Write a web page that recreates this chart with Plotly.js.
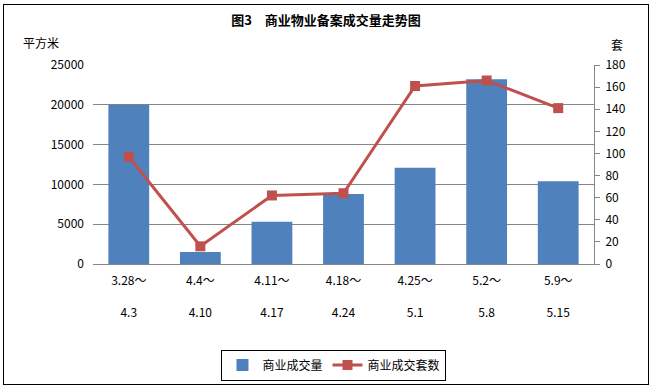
<!DOCTYPE html>
<html>
<head>
<meta charset="utf-8">
<script src="https://cdn.plot.ly/plotly-3.0.1.min.js"></script>
<style>
html,body{margin:0;padding:0;background:#fff;}
#wrap{position:relative;width:652px;height:387px;}
#frame{position:absolute;left:3px;top:4px;width:644px;height:379px;border:1px solid #000;pointer-events:none;z-index:5;}
#chart{position:absolute;left:0;top:0;width:652px;height:387px;}
</style>
</head>
<body>
<div id="wrap"><div id="chart"></div><div id="frame"></div></div>
<script>
const categories = ["3.28～<br> <br>4.3", "4.4～<br> <br>4.10", "4.11～<br> <br>4.17", "4.18～<br> <br>4.24", "4.25～<br> <br>5.1", "5.2～<br> <br>5.8", "5.9～<br> <br>5.15"];
const areaValues = [20000, 1500, 5300, 8800, 12100, 23200, 10400];
const unitValues = [97, 16, 62, 64, 161, 166, 141];
const seriesNames = ["商业成交量", "商业成交套数"];

const font = "'Noto Sans CJK SC', 'DejaVu Sans', sans-serif";
const idx = categories.map((_, i) => i);

const traces = [
  {
    type: 'bar', name: seriesNames[0], x: idx, y: areaValues,
    marker: {color: '#4F81BD'}, width: 0.57, yaxis: 'y'
  },
  {
    type: 'scatter', mode: 'lines+markers', name: seriesNames[1], x: idx, y: unitValues,
    line: {color: '#C0504D', width: 3},
    marker: {symbol: 'square', size: 10, color: '#C0504D'},
    yaxis: 'y2'
  }
];

const layout = {
  width: 652, height: 387,
  margin: {l: 93, r: 58, t: 65, b: 123, autoexpand: false},
  paper_bgcolor: '#fff', plot_bgcolor: '#fff',
  font: {family: font, size: 12, color: '#000'},
  title: {text: '<b>图3　商业物业备案成交量走势图</b>', font: {size: 13, family: font}, x: 0.5, xref: 'container', y: 0.948, yref: 'container', yanchor: 'middle'},
  showlegend: true,
  legend: {orientation: 'h', x: 0.481, xanchor: 'center', y: -0.43, yanchor: 'top',
           bordercolor: '#000', borderwidth: 1, font: {size: 12}, traceorder: 'normal',
           itemwidth: 30, tracegroupgap: 0},
  bargap: 0.43,
  xaxis: {
    range: [-0.5, 6.5], tickmode: 'array', tickvals: idx, ticktext: categories,
    showline: true, linecolor: '#868686', linewidth: 1, ticks: '', showgrid: false, zeroline: false,
    tickfont: {size: 12}, ticklabelstandoff: 6, automargin: false
  },
  yaxis: {
    range: [0, 25000], dtick: 5000, tick0: 0, showgrid: true, gridcolor: '#868686', gridwidth: 1,
    showline: false, ticks: '', zeroline: false, tickfont: {size: 12}, ticklabelstandoff: 8,
    tickformat: 'd', exponentformat: 'none', automargin: false
  },
  yaxis2: {
    range: [0, 180], dtick: 20, tick0: 0, overlaying: 'y', side: 'right', showgrid: false,
    showline: true, linecolor: '#868686', linewidth: 1, ticks: 'outside', ticklen: 5, tickcolor: '#868686',
    zeroline: false, tickfont: {size: 12}, ticklabelstandoff: 3, automargin: false
  },
  annotations: [
    {text: '平方米', xref: 'paper', yref: 'paper', x: (41 - 93) / 501, y: (264 - 43) / 199, xanchor: 'center', yanchor: 'middle', showarrow: false, font: {size: 12}},
    {text: '套', xref: 'paper', yref: 'paper', x: (617 - 93) / 501, y: (264 - 44) / 199, xanchor: 'center', yanchor: 'middle', showarrow: false, font: {size: 12}}
  ]
};

Plotly.newPlot('chart', traces, layout, {displayModeBar: false, staticPlot: true});
</script>
</body>
</html>
